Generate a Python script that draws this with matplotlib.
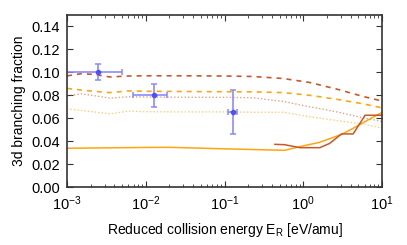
import matplotlib
matplotlib.use("Agg")
import matplotlib.pyplot as plt
import numpy as np

plt.rcParams['font.family'] = ['Liberation Sans', 'DejaVu Sans']
plt.rcParams['mathtext.fontset'] = 'custom'
plt.rcParams['mathtext.rm'] = 'Liberation Sans'

# Theory curves on common energy grid
x_th = [0.001, 0.0015, 0.0022, 0.0035, 0.006, 0.01, 0.03, 0.1, 0.23, 0.56, 1.2, 2.66, 5.8, 10]
dark_dashed = [0.0969, 0.0988, 0.0982, 0.0960, 0.0968, 0.0970, 0.0970, 0.0968, 0.0964, 0.0946, 0.0912, 0.0854, 0.0789, 0.0750]
orange_dashed = [0.0860, 0.0846, 0.0835, 0.0823, 0.0838, 0.0835, 0.0833, 0.0831, 0.0830, 0.0823, 0.0800, 0.0765, 0.0725, 0.0690]
dark_dotted = [0.0795, 0.0812, 0.0797, 0.0775, 0.0787, 0.0785, 0.0783, 0.0782, 0.0778, 0.0746, 0.0700, 0.0655, 0.0603, 0.0572]
orange_dotted = [0.0680, 0.0668, 0.0655, 0.0638, 0.0662, 0.0657, 0.0655, 0.0655, 0.0652, 0.0652, 0.0613, 0.0580, 0.0548, 0.0515]

# Solid curves
x_orange_solid = [0.001, 0.01, 0.02, 0.1, 0.58, 0.9, 1.6, 3.1, 4.3, 6.8, 10]
orange_solid = [0.0338, 0.0345, 0.0346, 0.0333, 0.0320, 0.0352, 0.0389, 0.0460, 0.0512, 0.0589, 0.0650]
x_dark_solid = [0.437, 0.58, 0.906, 1.62, 2.16, 3.06, 4.3, 6.1, 10]
dark_solid = [0.0372, 0.0369, 0.0343, 0.0343, 0.0380, 0.0463, 0.0463, 0.0626, 0.0626]

# Experimental points
x_exp = [0.00245, 0.0129, 0.127]
y_exp = [0.100, 0.080, 0.0655]
yerr_exp = [0.007, 0.010, 0.0195]
x_lo = [0.0005, 0.0068, 0.111]
x_hi = [0.00496, 0.0184, 0.144]

dark = '#c8582a'
orange = '#ffa510'

fig = plt.figure(figsize=(4.07, 2.45), dpi=100)
ax = fig.add_axes([0.1646, 0.2367, 0.774, 0.7020])

ax.plot(x_th, dark_dashed, color=dark, ls=(0, (3, 3)), lw=1.2)
ax.plot(x_th, orange_dashed, color=orange, ls=(0, (3, 3)), lw=1.2)
ax.plot(x_th, dark_dotted, color=dark, ls=(0, (1, 1.5)), lw=1.0, alpha=0.55)
ax.plot(x_th, orange_dotted, color=orange, ls=(0, (1, 1.5)), lw=1.0, alpha=0.55)
ax.plot(x_orange_solid, orange_solid, color=orange, lw=1.1)
ax.plot(x_dark_solid, dark_solid, color=dark, lw=1.1)

xe = np.array(x_exp)
xerr = [xe - np.array(x_lo), np.array(x_hi) - xe]
ax.errorbar(x_exp, y_exp, yerr=yerr_exp, xerr=xerr, fmt='o', ms=3,
            color='#4a4aff', ecolor='#8888ff', elinewidth=1.3, capsize=2.5,
            capthick=1.2, alpha=0.9)

ax.set_xscale('log')
ax.set_xlim(1e-3, 10)
ax.set_ylim(0, 0.15)
ax.set_yticks(np.arange(0, 0.141, 0.02))
ax.set_yticklabels([f'{v:.2f}' for v in np.arange(0, 0.141, 0.02)])
ax.tick_params(which='both', direction='in', top=True, right=True, labelsize=10.5, color='#333333')
ax.tick_params(which='major', length=4, pad=5)
ax.tick_params(which='minor', length=2)
for s in ax.spines.values():
    s.set_linewidth(1.2)
    s.set_color('#333333')

ax.set_xlabel('Reduced collision energy E$_\\mathrm{R}$ [eV/amu]', fontsize=10, labelpad=6)
ax.set_ylabel('3d branching fraction', fontsize=10)

fig.savefig('out.png', dpi=100)
